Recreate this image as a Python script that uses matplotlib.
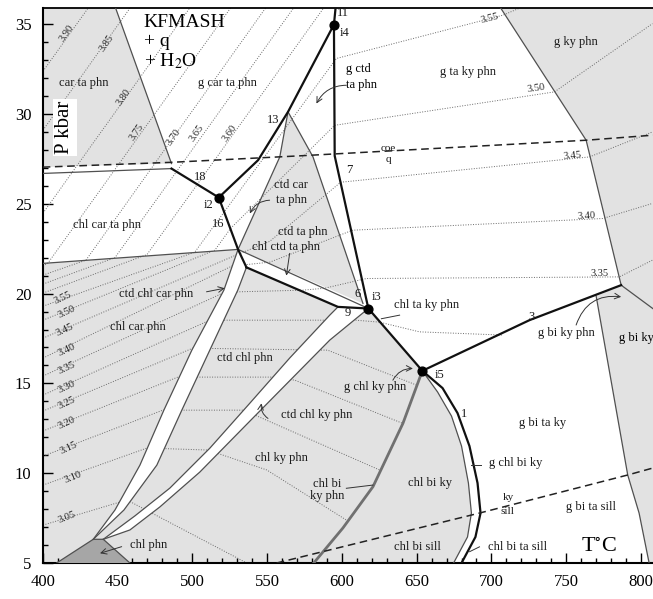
import matplotlib
matplotlib.use('Agg')
import matplotlib.pyplot as plt
from matplotlib.patches import Polygon

plt.rcParams['font.family'] = ['Liberation Serif', 'DejaVu Serif']
plt.rcParams['mathtext.fontset'] = 'stix'

# invariant points
inv_names = ['i2', 'i3', 'i4', 'i5']
inv_T = [517.7, 617.7, 594.7, 653.8]
inv_P = [25.35, 19.17, 34.98, 15.70]

# heavy reaction lines (T degC, P kbar)
r18 = [(486.1, 26.96), (517.7, 25.35)]
r13 = [(517.7, 25.35), (544.0, 27.43), (564.0, 30.12), (594.7, 34.98)]
r11 = [(594.7, 34.98), (595.9, 36.0)]
r7 = [(594.7, 34.98), (595.2, 27.67), (617.7, 19.17)]
r16 = [(517.7, 25.35), (530.6, 22.46), (536.2, 21.46)]
r9 = [(536.2, 21.46), (597.4, 19.26), (617.7, 19.17)]
r_i3i5 = [(617.7, 19.17), (653.8, 15.70)]
r3 = [(653.8, 15.70), (725.4, 18.52), (786.7, 20.47)]
r1 = [(653.8, 15.70), (667.3, 14.74), (677.3, 13.35), (685.3, 11.51), (690.7, 9.45),
      (692.7, 7.78), (689.3, 6.45), (680.0, 5.0)]

# field boundaries
chl_out = [(653.8, 15.70), (664.0, 14.52), (673.3, 13.18), (680.0, 11.51), (684.6, 9.45),
           (686.6, 7.78), (684.0, 6.45), (674.7, 5.0)]
ky_phn = [(653.8, 15.70), (640.8, 12.77), (620.8, 9.25), (600.7, 6.95), (581.2, 5.0)]
car_edge = [(448.3, 36.0), (486.1, 27.24)]
car_low = [(400.0, 26.69), (486.1, 26.96)]
chl_top = [(400.0, 21.68), (530.6, 22.46)]
j1_i3 = [(530.6, 22.46), (617.7, 19.17)]
tri_left = [(564.0, 30.12), (558.5, 27.61), (530.6, 22.46)]
tri_right = [(564.0, 30.12), (580.7, 27.61), (614.1, 19.45)]
strip1_left = [(530.6, 22.46), (521.1, 20.19), (499.7, 16.85), (481.0, 13.51), (465.0, 10.45), (448.3, 7.95), (433.8, 6.32)]
strip1_right = [(536.2, 21.46), (530.4, 20.19), (511.7, 16.85), (493.0, 13.51), (476.3, 10.45), (454.3, 7.95), (433.8, 6.32)]
strip2_up = [(597.4, 19.26), (591.9, 18.80), (565.1, 16.41), (538.5, 13.90), (511.8, 11.40), (485.0, 9.17), (461.6, 7.62), (440.5, 6.32)]
strip2_low = [(617.7, 19.17), (591.9, 17.41), (538.5, 12.90), (505.0, 10.06), (478.3, 8.12), (458.3, 6.84), (440.5, 6.32)]
chl_phn = [(409.3, 5.0), (433.8, 6.32), (440.5, 6.32), (458.3, 5.0)]
gky_edge = [(705.4, 36.0), (763.3, 28.54), (786.7, 20.47)]
gbiky_top = [(786.7, 20.47), (808.0, 19.16)]
gbiky_edge = [(770.0, 19.86), (791.1, 9.90), (798.7, 7.78), (805.4, 5.0)]

# dashed reactions
coe_q = [(400.0, 27.04), (486.3, 27.31), (571.8, 27.67), (763.5, 28.54), (808.0, 28.82)]
ky_sill = [(556.4, 5.0), (692.0, 7.78), (791.1, 9.90), (808.0, 10.29)]

# Si-in-phengite isopleths
iso = {
    '3.90': [(400.2, 32.38), (430.3, 35.89)],
    '3.85': [(400.2, 29.10), (458.3, 35.89)],
    '3.80': [(400.2, 24.48), (498.2, 35.89)],
    '3.75': [(400.2, 21.53), (403.5, 21.70), (525.5, 35.89)],
    '3.70': [(400.2, 21.03), (428.9, 21.86), (548.9, 35.89)],
    '3.65': [(400.2, 20.53), (448.3, 22.00), (567.6, 35.89)],
    '3.60': [(400.2, 20.03), (469.7, 22.17), (587.7, 35.89)],
    '3.55': [(400.2, 19.30), (501.7, 22.31), (596.3, 33.09), (707.6, 35.50), (718.7, 35.89)],
    '3.50': [(400.2, 18.52), (515.1, 22.42), (525.7, 23.64), (595.2, 29.37), (742.1, 31.23), (807.6, 35.03)],
    '3.45': [(400.2, 17.52), (527.7, 22.09), (551.8, 22.91), (599.2, 26.20), (765.5, 27.61), (807.6, 29.0)],
    '3.40': [(400.2, 16.41), (526.4, 21.53), (551.8, 21.75), (607.2, 23.53), (774.4, 24.18), (807.6, 25.02)],
    '3.35': [(400.2, 15.41), (521.7, 20.08), (573.8, 20.19), (588.5, 20.30), (616.4, 20.84), (785.5, 20.93), (807.6, 21.86)],
    '3.30': [(400.2, 14.35), (511.7, 18.52), (609.2, 18.52), (625.2, 18.41), (651.9, 17.87), (707.6, 17.69)],
    '3.25': [(400.2, 13.46), (500.3, 16.96), (590.5, 16.85), (649.8, 14.91)],
    '3.20': [(400.2, 12.35), (490.3, 15.35), (553.1, 15.35), (568.5, 15.18), (640.8, 12.77)],
    '3.15': [(400.2, 10.95), (480.3, 13.51), (534.4, 13.51), (546.4, 13.07), (625.2, 10.18)],
    '3.10': [(400.2, 9.34), (469.7, 11.40), (510.4, 11.29), (549.8, 10.18), (603.0, 7.39)],
    '3.05': [(400.2, 7.11), (456.3, 8.51), (536.4, 5.0)],
}

# isopleth labels: value, T, P, rotation
iso_lab = [
    ('3.90', 416.0, 34.48, 55), ('3.85', 442.7, 33.92, 55), ('3.80', 453.8, 30.95, 55),
    ('3.75', 462.8, 29.0, 55), ('3.70', 487.2, 28.72, 55), ('3.65', 502.8, 28.91, 55),
    ('3.60', 525.1, 28.91, 55),
    ('3.55', 698.7, 35.3, 14), ('3.50', 729.8, 31.42, 8), ('3.45', 754.3, 27.7, 5),
    ('3.40', 763.3, 24.3, 3), ('3.35', 772.2, 21.14, 0),
    ('3.55', 413.6, 19.75, 25), ('3.50', 416.0, 18.97, 25), ('3.45', 414.9, 17.97, 25),
    ('3.40', 416.0, 16.85, 25), ('3.35', 416.0, 15.85, 25), ('3.30', 416.0, 14.79, 25),
    ('3.25', 416.0, 13.9, 25), ('3.20', 416.0, 12.79, 25), ('3.15', 417.1, 11.4, 25),
    ('3.10', 420.4, 9.79, 22), ('3.05', 416.0, 7.56, 22),
]

# field and reaction labels: text, T, P, size
field_lab = [
    ('car ta phn', 427.7, 31.7, 9), ('g car ta phn', 523.7, 31.7, 9),
    ('chl car ta phn', 442.7, 23.8, 9), ('ctd ta phn', 574.0, 23.44, 9),
    ('chl ctd ta phn', 562.9, 22.6, 9), ('ctd chl car phn', 476.1, 20.0, 9),
    ('chl car phn', 463.8, 18.15, 9), ('ctd chl phn', 535.1, 16.39, 9),
    ('ctd chl ky phn', 582.9, 13.24, 9), ('chl ky phn', 559.6, 10.83, 9),
    ('chl bi\nky phn', 590.5, 9.06, 9), ('chl bi ky', 658.6, 9.44, 9),
    ('chl bi sill', 650.8, 5.91, 9), ('chl phn', 470.5, 6.0, 9),
    ('g ta ky phn', 684.2, 32.34, 9), ('g ky phn', 756.5, 34.0, 9),
    ('chl ta ky phn', 656.4, 19.36, 9), ('g chl ky phn', 621.9, 14.81, 9),
    ('g bi ta ky', 734.3, 12.77, 9), ('g chl bi ky', 716.5, 10.55, 9),
    ('g bi ky phn', 749.9, 17.78, 9), ('g bi ta sill', 766.6, 8.13, 9),
    ('chl bi ta sill', 717.6, 5.91, 9),
    ('ctd car', 566.0, 26.04, 9), ('ta phn', 566.5, 25.2, 9),
    ('18', 505.1, 26.5, 9), ('16', 517.3, 23.9, 9), ('13', 554.0, 29.65, 9),
    ('7', 605.2, 26.87, 9), ('11', 600.7, 35.6, 9), ('6', 610.8, 20.0, 9),
    ('9', 604.1, 18.9, 9), ('3', 726.5, 18.67, 9), ('1', 681.5, 13.3, 9),
    ('coe', 630.8, 28.1, 8), ('q', 630.8, 27.45, 8),
    ('ky', 711.0, 8.67, 8), ('sill', 711.0, 7.85, 8),
]
inv_lab = [('i2', 510.6, 24.92), ('i3', 623.0, 19.82), ('i4', 601.9, 34.5), ('i5', 665.3, 15.46)]

# leader arrows: label anchor -> target
arrows = [
    ((551.7, 25.2), (538.5, 24.46), 0.3),
    ((565.1, 22.24), (562.9, 21.0), 0.0),
    ((509.5, 20.1), (521.7, 20.3), 0.0),
    ((550.6, 13.05), (546.2, 13.89), -0.3),
    ((452.8, 5.91), (438.3, 5.54), 0.0),
    ((603.0, 31.6), (583.0, 30.58), 0.3),
    ((634.1, 15.18), (647.5, 15.83), -0.3),
    ((756.6, 18.25), (786.7, 19.82), -0.4),
]
leaders = [
    [(603.0, 9.16), (620.8, 9.34)],
    [(638.6, 18.8), (626.4, 18.6)],
    [(693.2, 10.45), (686.0, 10.45)],
    [(692.0, 5.9), (685.4, 5.63)],
]

fig = plt.figure(figsize=(6.53, 5.99), dpi=100)
ax = fig.add_axes([0.0654, 0.0601, 0.9346, 0.9265])

light = '#e2e2e2'
edge = '#505050'

def poly(pts, fc, z):
    ax.add_patch(Polygon(pts, closed=True, facecolor=fc, edgecolor='none', zorder=z))

# shaded fields
poly([(400.0, 36.0)] + car_edge + [(400.0, 27.04)], light, 1)
poly(gky_edge + [(808.0, 19.16), (808.0, 36.0)], light, 1)
poly(gbiky_edge[::-1] + [(770.0, 19.86), (786.7, 20.47), (808.0, 19.16), (808.0, 5.0)], light, 1)
poly([(564.0, 30.12), (580.7, 27.61), (614.1, 19.45), (530.6, 22.46), (558.5, 27.61)], light, 1)
poly([(400.0, 21.68), (530.6, 22.46), (536.2, 21.46), (597.4, 19.26), (617.7, 19.17)]
     + chl_out + [(400.0, 5.0)], light, 1)

# isopleths
for k, pts in iso.items():
    xs, ys = zip(*pts)
    ax.plot(xs, ys, color='#6a6a6a', lw=0.7, ls=(0, (1, 1.6)), zorder=2)

# white strips and chl phn field
poly(strip1_left + strip1_right[::-1], 'white', 2.5)
poly(strip2_up + strip2_low[::-1], 'white', 2.5)
poly(chl_phn, '#a6a6a6', 2.6)

for pts in [car_edge, car_low, chl_top, j1_i3, tri_left, tri_right, strip1_left, strip1_right,
            strip2_up, strip2_low, chl_phn, gky_edge, gbiky_top, gbiky_edge, chl_out]:
    xs, ys = zip(*pts)
    ax.plot(xs, ys, color=edge, lw=0.9, zorder=4)

xs, ys = zip(*ky_phn)
ax.plot(xs, ys, color='#707070', lw=2.0, zorder=4)

for pts in [r18, r13, r11, r7, r16, r9, r_i3i5, r3, r1]:
    xs, ys = zip(*pts)
    ax.plot(xs, ys, color='#111111', lw=1.6, zorder=5)

for pts in [coe_q, ky_sill]:
    xs, ys = zip(*pts)
    ax.plot(xs, ys, color='#222222', lw=1.1, ls=(0, (5, 3)), zorder=5)

ax.scatter(inv_T, inv_P, s=40, color='black', zorder=6)

for v, t, p, rot in iso_lab:
    ax.text(t, p, v, fontsize=7.5, rotation=rot, ha='center', va='center', color='#222222', zorder=7)

for s, t, p, fs in field_lab:
    ax.text(t, p, s, fontsize=fs, ha='center', va='center', color='#1a1a1a',
            linespacing=0.95, zorder=7)

for s, t, p in inv_lab:
    ax.text(t, p, s, fontsize=9, ha='center', va='center', color='#1a1a1a', zorder=7)

ax.text(603.0, 32.5, 'g ctd', fontsize=9, ha='left', va='center', zorder=7)
ax.text(603.0, 31.6, 'ta phn', fontsize=9, ha='left', va='center', zorder=7)
ax.text(785.4, 17.5, 'g bi ky', fontsize=9, ha='left', va='center', zorder=7, clip_on=False)

ax.text(467.0, 35.1, 'KFMASH', fontsize=14, ha='left', va='center', zorder=7)
ax.text(467.5, 34.05, '+ q', fontsize=14, ha='left', va='center', zorder=7)
ax.text(467.5, 32.95, '+ H$_2$O', fontsize=14, ha='left', va='center', zorder=7)
ax.text(414.9, 29.26, 'P kbar', fontsize=15, rotation=90, ha='center', va='center', zorder=7,
        bbox=dict(facecolor='white', edgecolor='none', pad=1.5))
ax.text(772.2, 5.85, 'T$^{\\circ}$C', fontsize=16, ha='center', va='center', zorder=7)

for (x0, y0), (x1, y1), rad in arrows:
    ax.annotate('', xy=(x1, y1), xytext=(x0, y0), zorder=7,
                arrowprops=dict(arrowstyle='->', lw=0.7, color='#333333',
                                connectionstyle='arc3,rad=%s' % rad, shrinkA=0, shrinkB=0))
for pts in leaders:
    xs, ys = zip(*pts)
    ax.plot(xs, ys, color='#333333', lw=0.7, zorder=7)

ax.set_xlim(400, 808)
ax.set_ylim(5, 35.9)
ax.set_xticks(range(400, 801, 50))
ax.set_xticks(range(400, 808, 10), minor=True)
ax.set_yticks(range(5, 36, 5))
ax.set_yticks(range(5, 36), minor=True)
ax.tick_params(which='both', direction='in', top=False, right=False, labelsize=12, width=1.0)
ax.tick_params(which='major', length=7, pad=8)
ax.tick_params(which='minor', length=3.5)
for s in ['left', 'bottom']:
    ax.spines[s].set_linewidth(1.5)
ax.spines['top'].set_linewidth(1.3)
ax.spines['right'].set_visible(False)

fig.savefig('out.png', dpi=100)
